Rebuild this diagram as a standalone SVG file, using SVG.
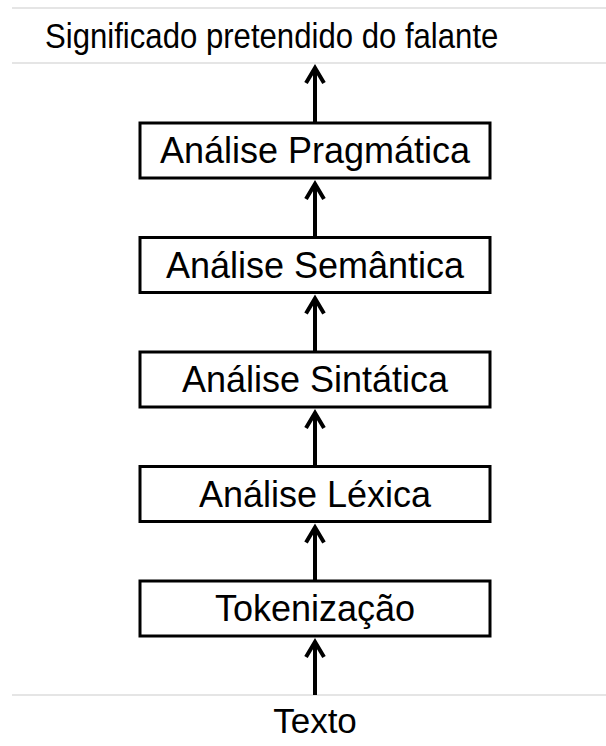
<svg xmlns="http://www.w3.org/2000/svg" width="606" height="746" viewBox="0 0 606 746">
  <defs>
    <style>
      .bg { fill: #ffffff; }
      .rule { stroke: #dddddd; stroke-width: 1.5; fill: none; }
      .box { fill: #ffffff; stroke: #000000; stroke-width: 3; }
      .label { font-family: "Liberation Sans", Arial, sans-serif; font-size: 36px; fill: #000000; text-anchor: middle; }
      .title { font-family: "Liberation Sans", Arial, sans-serif; font-size: 36px; fill: #000000; }
      .edge { stroke: #000000; stroke-width: 4; fill: none; marker-end: url(#head); }
    </style>
    <marker id="head" markerUnits="userSpaceOnUse" orient="auto" overflow="visible" markerWidth="20" markerHeight="20" refX="0" refY="0">
      <path d="M-15,-9 L0,0 L-15,9" fill="none" stroke="#000000" stroke-width="4" stroke-linejoin="miter"/>
    </marker>
  </defs>

  <rect class="bg" x="0" y="0" width="606" height="746"/>

  <!-- thin separator rules -->
  <g id="rules">
    <line class="rule" x1="12" y1="8" x2="606" y2="8"/>
    <line class="rule" x1="12" y1="63" x2="606" y2="63"/>
    <line class="rule" x1="12" y1="695" x2="606" y2="695"/>
  </g>

  <!-- connectors -->
  <g id="connectors">
    <path class="edge" d="M315,695 V642"/>
    <path class="edge" d="M315,581 V527.5"/>
    <path class="edge" d="M315,466.5 V413"/>
    <path class="edge" d="M315,352 V298.5"/>
    <path class="edge" d="M315,237.5 V184"/>
    <path class="edge" d="M315,123 V68"/>
  </g>

  <g id="output">
    <text class="title" transform="translate(45,48) scale(0.865,1)" x="0" y="0">Significado pretendido do falante</text>
  </g>

  <g id="pragmatica">
    <rect class="box" x="140" y="123" width="350" height="55"/>
    <text class="label" x="315" y="163">Análise Pragmática</text>
  </g>

  <g id="semantica">
    <rect class="box" x="140" y="237.5" width="350" height="55"/>
    <text class="label" x="315" y="277.5">Análise Semântica</text>
  </g>

  <g id="sintatica">
    <rect class="box" x="140" y="352" width="350" height="55"/>
    <text class="label" x="315" y="392">Análise Sintática</text>
  </g>

  <g id="lexica">
    <rect class="box" x="140" y="466.5" width="350" height="55"/>
    <text class="label" x="315" y="506.5">Análise Léxica</text>
  </g>

  <g id="tokenizacao">
    <rect class="box" x="140" y="581" width="350" height="55"/>
    <text class="label" x="315" y="621">Tokenização</text>
  </g>

  <g id="input">
    <text class="label" x="315" y="733" style="font-size:35px">Texto</text>
  </g>
</svg>
